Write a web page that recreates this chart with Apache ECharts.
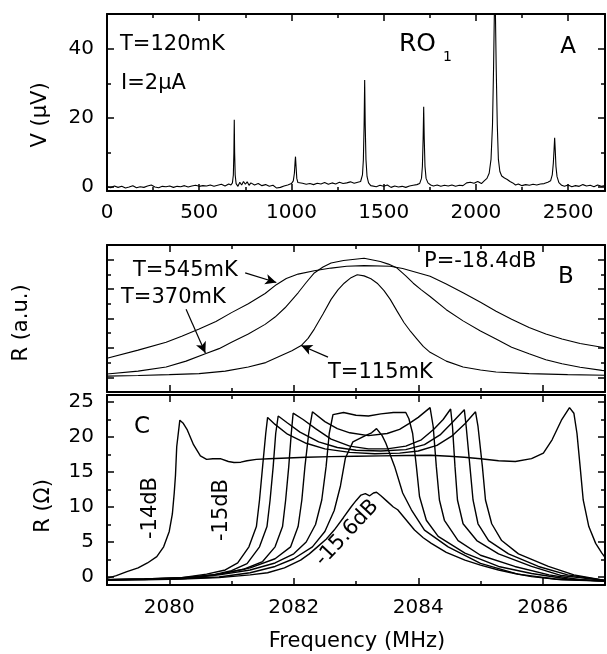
<!DOCTYPE html>
<html><head><meta charset="utf-8">
<script src="https://cdn.jsdelivr.net/npm/echarts@6/dist/echarts.min.js"></script>
<style>html,body{margin:0;padding:0;background:#fff}#c{width:607px;height:654px}</style>
</head><body><div id="c"></div>
<script>
// ---------- Panel A: V (uV) vs frequency (MHz) ----------
const spectrumA = [[0,0.1],[20,-0.2],[40,0.3],[60,-0.1],[80,0.2],[100,-0.3],[120,0.0],[140,0.4],[160,-0.2],[180,0.1],[200,-0.1],[220,0.3],[240,0.6],[260,0.0],[280,-0.2],[300,0.2],[320,0.1],[340,0.3],[360,-0.1],[380,0.2],[400,0.1],[420,0.4],[440,0.0],[460,0.3],[480,0.5],[500,0.2],[520,0.4],[540,0.3],[560,0.6],[580,0.2],[600,0.5],[620,0.8],[640,0.3],[660,0.9],[672,0.6],[680,1.2],[685,3.5],[688,10],[690,19.5],[692,10],[695,3.5],[700,1.0],[710,0.2],[720,1.4],[730,0.6],[740,1.6],[750,0.8],[760,1.5],[770,0.5],[780,1.2],[800,0.6],[820,1.0],[840,0.4],[860,0.7],[880,0.2],[900,0.5],[920,-0.3],[940,-0.1],[960,0.3],[980,0.6],[1000,1.0],[1010,1.8],[1016,4],[1020,7.5],[1022,8.8],[1025,6],[1029,2.5],[1035,1.3],[1045,0.9],[1060,1.1],[1080,0.8],[1100,1.0],[1120,0.7],[1140,1.1],[1160,0.9],[1180,1.3],[1200,0.8],[1220,1.2],[1240,0.9],[1260,1.4],[1280,1.0],[1300,1.2],[1320,1.5],[1340,1.1],[1360,1.4],[1375,1.6],[1385,3.5],[1390,8],[1394,18],[1397,31],[1400,18],[1404,8],[1410,3],[1418,1.2],[1430,0.4],[1440,0.8],[1460,0.1],[1480,0.5],[1500,0.2],[1520,0.6],[1540,-0.1],[1560,0.3],[1580,0.0],[1600,0.2],[1620,-0.1],[1640,0.3],[1660,0.5],[1680,0.7],[1695,1.0],[1705,2.5],[1710,6],[1714,14],[1717,23.3],[1720,14],[1724,6],[1730,2.5],[1740,1.2],[1755,0.6],[1770,0.3],[1790,0.6],[1810,0.2],[1830,0.5],[1850,0.3],[1870,0.6],[1890,0.2],[1910,0.5],[1930,0.4],[1950,1.2],[1970,1.4],[1990,1.1],[2010,1.6],[2030,1.0],[2045,1.8],[2060,2.5],[2072,4],[2082,8],[2090,18],[2096,35],[2100,50],[2103,56],[2106,50],[2110,35],[2116,18],[2122,8],[2130,4.5],[2140,3.2],[2155,2.6],[2170,2.2],[2185,1.6],[2200,1.2],[2215,0.6],[2230,0.9],[2250,0.4],[2270,0.7],[2290,0.5],[2310,0.8],[2330,0.6],[2350,0.9],[2370,1.0],[2390,1.4],[2405,1.8],[2414,3.5],[2420,7],[2424,11],[2427,14.3],[2430,11],[2434,6],[2440,3],[2450,1.3],[2465,0.5],[2480,0.2],[2500,0.6],[2520,0.1],[2540,0.4],[2560,0.2],[2580,0.7],[2600,0.3],[2620,0.5],[2640,0.1],[2660,0.6],[2680,0.2],[2700,0.4]];
const ticksAx = [0,500,1000,1500,2000,2500];
const minorAx = [250,750,1250,1750,2250];
const ticksAy = [0,20,40];
const minorAy = [10,30];

// ---------- Panel B: R (a.u.) ----------
const curveB545 = [[2079.0,2.3],[2079.5,2.85],[2079.95,3.38],[2080.2,3.8],[2080.48,4.28],[2080.75,4.8],[2081.0,5.4],[2081.27,6.0],[2081.54,6.7],[2081.72,7.3],[2081.88,7.72],[2082.07,8.02],[2082.33,8.25],[2082.6,8.43],[2082.85,8.55],[2083.13,8.6],[2083.55,8.55],[2083.75,8.4],[2083.92,8.2],[2084.19,7.87],[2084.45,7.35],[2084.72,6.75],[2085.0,6.1],[2085.25,5.5],[2085.5,4.95],[2085.78,4.39],[2086.05,3.95],[2086.31,3.6],[2086.6,3.3],[2086.95,3.04],[2087.0,3.0]];
const curveB370 = [[2079.0,1.22],[2079.5,1.42],[2079.95,1.7],[2080.27,2.1],[2080.58,2.6],[2080.8,2.95],[2081.0,3.38],[2081.27,3.95],[2081.54,4.6],[2081.7,5.1],[2081.86,5.73],[2082.07,6.75],[2082.2,7.45],[2082.33,8.1],[2082.47,8.5],[2082.6,8.78],[2082.8,8.95],[2083.02,9.05],[2083.13,9.1],[2083.25,9.0],[2083.39,8.88],[2083.52,8.7],[2083.66,8.43],[2083.8,7.9],[2083.92,7.4],[2084.05,6.95],[2084.19,6.5],[2084.45,5.6],[2084.72,4.84],[2085.0,4.15],[2085.25,3.6],[2085.5,3.05],[2085.78,2.6],[2086.05,2.2],[2086.31,1.92],[2086.6,1.68],[2086.95,1.47],[2087.0,1.45]];
const curveB115 = [[2079.0,1.08],[2079.5,1.12],[2080.0,1.18],[2080.48,1.25],[2080.9,1.42],[2081.27,1.7],[2081.55,2.0],[2081.8,2.48],[2081.97,2.8],[2082.12,3.16],[2082.23,3.65],[2082.33,4.28],[2082.47,5.3],[2082.6,6.3],[2082.71,6.95],[2082.81,7.4],[2082.92,7.78],[2083.02,7.98],[2083.13,7.9],[2083.24,7.7],[2083.34,7.4],[2083.45,6.9],[2083.55,6.3],[2083.66,5.5],[2083.77,4.73],[2083.88,4.1],[2083.98,3.6],[2084.08,3.1],[2084.19,2.7],[2084.45,2.1],[2084.72,1.7],[2085.0,1.5],[2085.25,1.36],[2085.78,1.25],[2086.4,1.18],[2087.0,1.14]];
const arrowsB = [[[2081.22,8.1],[2081.72,7.45]],[[2080.27,5.63],[2080.58,2.65]],[[2082.55,2.37],[2082.12,3.16]]];
const ticksBx = [2080,2082,2084,2086];
const minorBx = [2081,2083,2085];
const ticksBy = [1,3,5,7,9];
const minorBy = [2,4,6,8];

// ---------- Panel C: R (Ohm) ----------
const curveC14 = [[2079.0,-0.2],[2079.15,0.2],[2079.32,0.76],[2079.5,1.3],[2079.65,2.0],[2079.8,2.9],[2079.91,4.3],[2080.0,6.5],[2080.05,9],[2080.08,12],[2080.1,14.5],[2080.12,18.6],[2080.17,22.4],[2080.22,22.0],[2080.29,21.0],[2080.39,18.9],[2080.5,17.3],[2080.6,16.8],[2080.7,16.9],[2080.82,16.9],[2080.95,16.5],[2081.04,16.35],[2081.15,16.4],[2081.25,16.6],[2081.4,16.8],[2081.6,16.9],[2081.9,17.0],[2082.2,17.1],[2082.6,17.2],[2083.0,17.25],[2083.4,17.3],[2083.8,17.35],[2084.2,17.4],[2084.5,17.25],[2084.74,17.1],[2085.0,16.9],[2085.29,16.6],[2085.56,16.5],[2085.82,16.9],[2086.01,17.7],[2086.15,19.6],[2086.3,22.4],[2086.43,24.2],[2086.5,23.4],[2086.55,20.5],[2086.6,15.8],[2086.65,11],[2086.74,7.2],[2086.85,4.8],[2086.95,3.4],[2087.0,2.8]];
const curveC15 = [[2079,-0.4],[2079.6,-0.3],[2080.2,-0.1],[2080.6,0.4],[2080.9,1.0],[2081.1,2.0],[2081.28,4.3],[2081.4,7.2],[2081.45,11],[2081.5,15.8],[2081.55,20.5],[2081.58,22.8],[2081.7,21.8],[2081.9,20.4],[2082.2,19.1],[2082.5,18.3],[2082.9,17.8],[2083.3,17.6],[2083.7,17.7],[2084.0,18.0],[2084.3,18.8],[2084.55,20.2],[2084.75,21.9],[2084.92,23.6],[2084.96,21.5],[2085.03,15.8],[2085.08,11],[2085.18,7.6],[2085.34,5.2],[2085.61,3.3],[2086.09,1.5],[2086.5,0.3],[2087,-0.5]];
const curveC15b = [[2079,-0.4],[2079.6,-0.3],[2080.2,-0.1],[2080.7,0.3],[2081.0,0.9],[2081.25,1.9],[2081.45,4.3],[2081.57,7.2],[2081.62,11],[2081.67,15.8],[2081.71,20.5],[2081.75,23.0],[2081.9,22.0],[2082.1,20.7],[2082.4,19.3],[2082.7,18.5],[2083.0,18.1],[2083.4,18.0],[2083.8,18.2],[2084.1,18.9],[2084.35,20.3],[2084.55,22.1],[2084.74,23.9],[2084.77,21.5],[2084.83,15.8],[2084.88,11],[2084.96,7.6],[2085.13,5.2],[2085.45,3.3],[2085.93,1.5],[2086.4,0.3],[2087,-0.5]];
const curveC15c = [[2079,-0.4],[2079.7,-0.3],[2080.3,-0.1],[2080.8,0.4],[2081.2,1.1],[2081.5,2.2],[2081.7,4.3],[2081.82,7.2],[2081.87,11],[2081.92,15.8],[2081.96,20.5],[2081.99,23.4],[2082.15,22.5],[2082.35,21.2],[2082.6,19.7],[2082.9,18.7],[2083.2,18.3],[2083.5,18.3],[2083.8,18.7],[2084.05,19.6],[2084.25,21.1],[2084.4,22.5],[2084.52,24.0],[2084.55,21.5],[2084.59,15.8],[2084.63,11],[2084.72,7.6],[2084.94,5.2],[2085.29,3.3],[2085.82,1.5],[2086.3,0.2],[2087,-0.5]];
const curveC15d = [[2079,-0.4],[2079.7,-0.35],[2080.3,-0.2],[2080.8,0.4],[2081.3,1.3],[2081.7,2.6],[2081.95,4.3],[2082.07,7.2],[2082.13,11],[2082.18,15.8],[2082.24,20.5],[2082.3,23.6],[2082.5,22.2],[2082.7,21.2],[2082.9,20.6],[2083.2,20.2],[2083.5,20.5],[2083.7,21.1],[2083.85,21.9],[2084.0,22.8],[2084.19,24.2],[2084.24,21.5],[2084.29,15.8],[2084.34,11],[2084.42,8.1],[2084.64,5.2],[2085.0,3.1],[2085.55,1.5],[2086.1,0.3],[2086.6,-0.4],[2087,-0.6]];
const curveC15e = [[2079,-0.4],[2079.7,-0.35],[2080.3,-0.2],[2080.8,0.3],[2081.3,1.0],[2081.7,2.0],[2082.0,3.3],[2082.2,5.0],[2082.35,7.5],[2082.45,11],[2082.52,15.8],[2082.57,20.5],[2082.63,23.2],[2082.8,23.5],[2083.0,23.1],[2083.2,23.0],[2083.4,23.3],[2083.6,23.5],[2083.8,23.5],[2083.85,22.6],[2083.91,20.5],[2083.97,15.8],[2084.02,11.5],[2084.13,8.1],[2084.32,5.8],[2084.75,3.4],[2085.29,1.5],[2085.82,0.5],[2086.4,-0.3],[2087,-0.6]];
const curveC15f = [[2079,-0.4],[2080,-0.3],[2080.8,0.0],[2081.3,0.6],[2081.7,1.5],[2082.0,2.6],[2082.3,4.3],[2082.5,6.5],[2082.65,9.5],[2082.75,13],[2082.83,17],[2082.95,19.3],[2083.15,20.2],[2083.25,20.6],[2083.33,21.2],[2083.42,20.2],[2083.48,19.1],[2083.62,15.8],[2083.75,12.0],[2083.89,9.6],[2084.1,6.7],[2084.48,4.3],[2085.0,1.95],[2085.6,0.4],[2086.2,-0.3],[2087,-0.6]];
const curveC156 = [[2079.0,-0.4],[2079.6,-0.4],[2080.2,-0.3],[2080.8,-0.1],[2081.3,0.3],[2081.58,0.6],[2081.85,1.3],[2082.11,2.4],[2082.25,3.3],[2082.38,4.3],[2082.52,5.4],[2082.65,6.7],[2082.8,8.5],[2082.92,10.0],[2083.0,10.9],[2083.08,11.7],[2083.15,11.9],[2083.22,11.6],[2083.28,12.0],[2083.33,12.1],[2083.4,11.6],[2083.5,10.8],[2083.6,10.0],[2083.67,9.6],[2083.8,8.2],[2083.94,6.7],[2084.08,5.6],[2084.21,4.8],[2084.45,3.5],[2084.75,2.4],[2085.0,1.7],[2085.29,1.0],[2085.55,0.5],[2085.82,0.05],[2086.3,-0.4],[2087.0,-0.6]];
const ticksCx = [2080,2082,2084,2086];
const minorCx = [2081,2083,2085];
const ticksCy = [0,5,10,15,20,25];
const minorCy = [2.5,7.5,12.5,17.5,22.5];

// ---------- build ----------
const FONT = '"DejaVu Sans", "Liberation Sans", sans-serif';
const xAxes = [], yAxes = [];
function addAxes(list, kind, grid, min, max, majors, minors, labels, margin) {
  const pos = kind === 'x' ? ['bottom', 'top'] : ['left', 'right'];
  let mainIndex = -1;
  pos.forEach((p, i) => {
    const ax = {
      type: 'value', gridIndex: grid, position: p, min: min, max: max, offset: 0,
      axisLine: { show: true, onZero: false, lineStyle: { color: '#000', width: 2 } },
      axisTick: { show: true, inside: true, length: 7, customValues: majors, lineStyle: { color: '#000', width: 1.5 } },
      minorTick: { show: false },
      splitLine: { show: false },
      axisLabel: (i === 0 && labels) ? {
        show: true, customValues: labels, margin: margin, color: '#000',
        fontFamily: FONT, fontSize: 20, formatter: v => String(v)
      } : { show: false }
    };
    if (i === 0) mainIndex = list.length;
    list.push(ax);
    if (minors && minors.length) {
      list.push({
        type: 'value', gridIndex: grid, position: p, min: min, max: max, offset: 0,
        axisLine: { show: false, onZero: false },
        axisTick: { show: true, inside: true, length: 4, customValues: minors, lineStyle: { color: '#000', width: 1.5 } },
        minorTick: { show: false }, splitLine: { show: false }, axisLabel: { show: false }
      });
    }
  });
  return mainIndex;
}
const axA = addAxes(xAxes, 'x', 0, 0, 2700, ticksAx, minorAx, ticksAx, 12);
const ayA = addAxes(yAxes, 'y', 0, -1.15, 50.15, ticksAy, minorAy, ticksAy, 13);
const axB = addAxes(xAxes, 'x', 1, 2079, 2087, ticksBx, minorBx, null, 0);
const ayB = addAxes(yAxes, 'y', 1, 0, 10, ticksBy, minorBy, null, 0);
const axC = addAxes(xAxes, 'x', 2, 2079, 2087, ticksCx, minorCx, ticksCx, 13);
const ayC = addAxes(yAxes, 'y', 2, -1.15, 26.0, ticksCy, minorCy, ticksCy, 13);

function line(data, xi, yi, w, extra) {
  return Object.assign({
    type: 'line', data: data, xAxisIndex: xi, yAxisIndex: yi, showSymbol: false, symbol: 'none',
    clip: true, silent: true, lineStyle: { color: '#000', width: w }, itemStyle: { color: '#000' }
  }, extra || {});
}
const series = [
  line(spectrumA, axA, ayA, 1.1),
  line(curveB545, axB, ayB, 1.1, {
    markLine: {
      silent: true, symbol: ['none', 'arrow'], symbolSize: [8, 11], animation: false,
      label: { show: false }, lineStyle: { color: '#000', width: 1.2, type: 'solid' },
      data: arrowsB.map(a => [{ coord: a[0] }, { coord: a[1] }])
    }
  }),
  line(curveB370, axB, ayB, 1.1),
  line(curveB115, axB, ayB, 1.1),
  line(curveC14, axC, ayC, 1.4),
  line(curveC15, axC, ayC, 1.4),
  line(curveC15b, axC, ayC, 1.4),
  line(curveC15c, axC, ayC, 1.4),
  line(curveC15d, axC, ayC, 1.4),
  line(curveC15e, axC, ayC, 1.4),
  line(curveC15f, axC, ayC, 1.4),
  line(curveC156, axC, ayC, 1.4)
];

function txt(s, x, y, size, align, rot) {
  return {
    type: 'text', x: x, y: y, rotation: rot || 0, silent: true,
    style: {
      text: s, font: size + 'px ' + FONT, fill: '#000',
      textAlign: align || 'left', textVerticalAlign: 'middle',
      align: align || 'left', verticalAlign: 'middle'
    }
  };
}
const R90 = Math.PI / 2;
const graphics = [
  txt('T=120mK', 120, 45, 21),
  txt('I=2\u03bcA', 121, 84, 21),
  txt('RO', 399, 44, 25),
  txt('1', 443, 57, 14),
  txt('A', 568, 47, 23, 'center'),
  txt('T=545mK', 133, 271, 21),
  txt('T=370mK', 121, 298, 21),
  txt('T=115mK', 328, 373, 21),
  txt('P=-18.4dB', 424, 262, 21),
  txt('B', 566, 277, 23, 'center'),
  txt('C', 142, 427, 23, 'center'),
  txt('-14dB', 151, 508, 21, 'center', R90),
  txt('-15dB', 222, 510, 21, 'center', R90),
  txt('-15.6dB', 347, 533, 21, 'center', 47 * Math.PI / 180),
  txt('V (\u03bcV)', 41, 115, 21, 'center', R90),
  txt('R (a.u.)', 22, 323, 21, 'center', R90),
  txt('R (\u03a9)', 44, 506, 21, 'center', R90),
  txt('Frequency (MHz)', 357, 642, 21, 'center')
];

const chart = echarts.init(document.getElementById('c'), null, { renderer: 'canvas' });
chart.setOption({
  animation: false,
  backgroundColor: '#fff',
  grid: [
    { left: 107, top: 14, width: 498, height: 177 },
    { left: 107, top: 245, width: 498, height: 147 },
    { left: 107, top: 395, width: 498, height: 190 }
  ],
  xAxis: xAxes,
  yAxis: yAxes,
  series: series,
  graphic: graphics
});
</script>
</body></html>
